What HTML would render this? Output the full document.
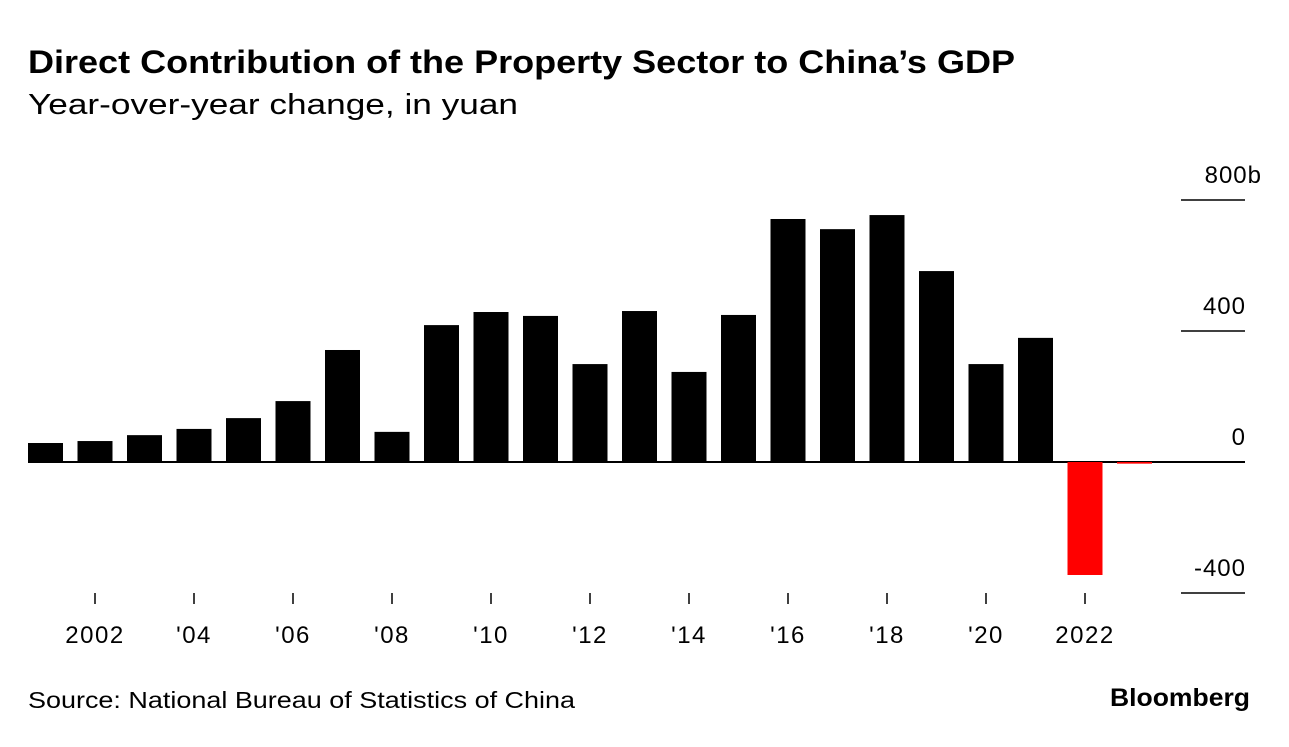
<!DOCTYPE html>
<html><head><meta charset="utf-8"><style>
body{margin:0;background:#fff;width:1289px;height:742px;overflow:hidden;font-family:"Liberation Sans",sans-serif;}
</style></head><body>
<svg id="chart" width="1289" height="742" xmlns="http://www.w3.org/2000/svg" font-family="Liberation Sans, sans-serif">
<text x="28" y="73" font-size="32" font-weight="bold" fill="#000" textLength="987" lengthAdjust="spacingAndGlyphs">Direct Contribution of the Property Sector to China’s GDP</text>
<text x="28" y="114" font-size="29" fill="#000" textLength="490" lengthAdjust="spacingAndGlyphs">Year-over-year change, in yuan</text>
<g id="grid"></g><g id="bars"></g><g id="xaxis"></g>
<text x="28" y="708" font-size="23" fill="#000" textLength="547" lengthAdjust="spacingAndGlyphs">Source: National Bureau of Statistics of China</text>
<text x="1110" y="706" font-size="25" font-weight="bold" fill="#000" textLength="140" lengthAdjust="spacingAndGlyphs">Bloomberg</text>
</svg>
<script>
const years=[2001,2002,2003,2004,2005,2006,2007,2008,2009,2010,2011,2012,2013,2014,2015,2016,2017,2018,2019,2020,2021,2022,2023];
const values=[58,64,82,101,134,186,342,92,418,458,446,299,461,275,449,742,711,754,583,299,379,-345,-5];
const yTicks=[800,400,0,-400];
const yTickLabels=["800b","400","0","-400"];
const xTickYears=[2002,2004,2006,2008,2010,2012,2014,2016,2018,2020,2022];
const xTickLabels=["2002","'04","'06","'08","'10","'12","'14","'16","'18","'20","2022"];
const NS="http://www.w3.org/2000/svg";
const y=v=>462-v*131/400;
const x=yr=>45.5+(yr-2001)*49.5;
const bw=35;
const grid=document.getElementById('grid'),bars=document.getElementById('bars'),xa=document.getElementById('xaxis');
function mk(tag,attrs,parent,txt){const e=document.createElementNS(NS,tag);for(const k in attrs)e.setAttribute(k,attrs[k]);if(txt!==undefined)e.textContent=txt;parent.appendChild(e);return e;}
yTicks.forEach((t,i)=>{
  const l=mk('line',{x1:t===0?28:1181,x2:1245,y1:y(t),y2:y(t),stroke:'#000','stroke-width':t===0?2:1.5},grid);
  
  
  const tx=mk('text',{x:t===800?1262:1246,y:y(t)-17,'font-size':24,'text-anchor':'end',fill:'#000','letter-spacing':1},grid,yTickLabels[i]);
  
  
});
values.forEach((v,i)=>{
  const y0=y(0),y1=y(v);
  const r=mk('rect',{x:x(years[i])-bw/2,y:Math.min(y0,y1),width:bw,height:Math.max(Math.abs(y1-y0),1.5),fill:v<0?'#ff0000':'#000'},bars);
  
  
});
xTickYears.forEach((yr,i)=>{
  const l=mk('line',{x1:x(yr),x2:x(yr),y1:593,y2:604,stroke:'#000','stroke-width':1.5},xa);
  
  
  const t=mk('text',{x:x(yr),y:643,'font-size':24,'text-anchor':'middle',fill:'#000','letter-spacing':1.5},xa,xTickLabels[i]);
  
  
});
</script>
</body></html>
